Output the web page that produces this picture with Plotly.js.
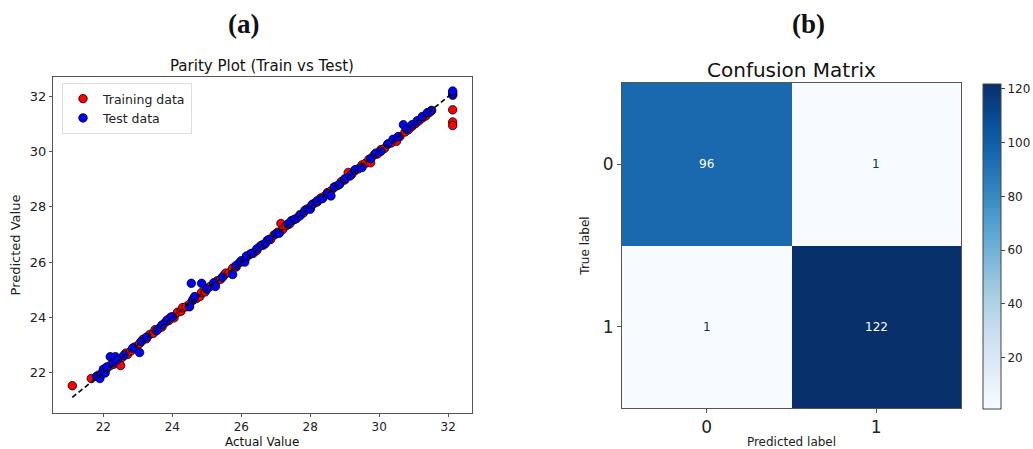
<!DOCTYPE html>
<html>
<head>
<meta charset="utf-8">
<script src="https://cdn.plot.ly/plotly-3.0.1.min.js"></script>
<style>html,body{margin:0;padding:0;background:#fff;}#chart{width:1033px;height:449px;}</style>
</head>
<body>
<div id="chart"></div>
<script>
// ---- Parity plot data ----
const trainActual = [21.10,21.65,21.85,22.00,22.10,22.20,22.30,22.45,22.50,22.55,22.65,22.70,22.80,22.90,22.95,23.05,23.15,23.25,23.35,23.45,23.50,23.60,23.70,23.80,23.90,23.95,24.05,24.15,24.25,24.30,24.40,24.50,24.60,24.70,24.80,24.85,24.95,25.00,25.10,25.20,25.30,25.40,25.50,25.55,25.65,25.75,25.85,25.95,26.05,26.15,26.25,26.35,26.45,26.55,26.65,26.75,26.85,26.95,27.05,27.15,27.20,27.30,27.40,27.50,27.60,27.70,27.80,27.90,28.00,28.10,28.20,28.30,28.40,28.50,28.60,28.70,28.80,28.90,29.00,29.10,29.20,29.30,29.40,29.50,29.60,29.70,29.75,29.85,29.95,30.05,30.15,30.25,30.35,30.45,30.50,30.60,30.75,30.85,30.95,31.05,31.15,31.25,31.35,31.45,31.52,32.13,32.13,32.13];
const trainPred   = [21.52,21.78,21.90,22.05,22.15,22.25,22.30,22.40,22.25,22.55,22.70,22.65,22.78,22.92,22.88,23.05,23.20,23.22,23.38,23.42,23.55,23.58,23.65,23.82,23.88,24.00,23.98,24.18,24.22,24.35,24.38,24.48,24.62,24.68,24.75,24.90,24.92,25.05,25.12,25.18,25.32,25.38,25.52,25.60,25.62,25.78,25.82,25.98,26.02,26.18,26.28,26.32,26.42,26.58,26.62,26.78,26.82,26.98,27.08,27.40,27.18,27.32,27.38,27.52,27.58,27.72,27.78,27.92,27.98,28.12,28.18,28.32,28.38,28.52,28.58,28.72,28.78,28.92,28.98,29.25,29.18,29.32,29.38,29.52,29.58,29.72,29.60,29.88,29.92,30.08,30.12,30.28,30.32,30.42,30.38,30.55,30.72,30.80,30.92,31.02,31.12,31.22,31.30,31.42,31.50,31.52,31.08,30.95];

const testActual = [21.80,21.90,21.95,22.00,22.05,22.10,22.20,22.30,22.35,22.40,22.60,22.85,23.05,23.10,23.25,23.55,23.70,23.85,24.00,24.50,24.55,24.60,24.65,24.85,25.00,25.20,25.25,25.45,25.75,25.85,26.00,26.10,26.15,26.30,26.45,26.60,26.70,26.80,27.00,27.10,27.35,27.45,27.55,27.70,27.85,28.00,28.05,28.20,28.35,28.50,28.60,28.70,28.85,29.00,29.15,29.30,29.50,29.75,29.90,30.05,30.25,30.40,30.55,30.70,30.80,30.95,31.10,31.25,31.40,31.50,32.13,32.13,32.13];
const testPred   = [21.85,21.78,21.95,22.12,21.98,22.20,22.57,22.35,22.57,22.45,22.62,22.88,22.72,23.12,23.28,23.52,23.72,23.90,24.02,24.38,25.23,24.65,24.75,25.23,25.02,25.25,25.12,25.45,25.55,25.88,26.05,26.00,26.22,26.32,26.48,26.62,26.68,26.82,27.02,27.05,27.38,27.50,27.55,27.68,27.88,27.92,28.08,28.22,28.30,28.48,28.40,28.72,28.82,29.02,29.12,29.35,29.43,29.75,29.95,30.02,30.28,30.45,30.55,30.98,30.82,30.98,31.12,31.28,31.42,31.48,32.05,32.12,32.20];

const idealLine = [21.10, 32.15];

// ---- Confusion matrix data ----
const cmLabels = ['0', '1'];
const cmValues = [[96, 1], [1, 122]];
const cbTicks = [20, 40, 60, 80, 100, 120];

const blues = [
  [0, '#f7fbff'], [0.125, '#deebf7'], [0.25, '#c6dbef'], [0.375, '#9ecae1'],
  [0.5, '#6baed6'], [0.625, '#4292c6'], [0.75, '#2171b5'], [0.875, '#08519c'], [1, '#08306b']
];

const FONT = 'DejaVu Sans, sans-serif';

const traces = [
  {
    x: trainActual, y: trainPred, type: 'scatter', mode: 'markers', name: 'Training data',
    marker: {color: '#ff0000', size: 8.5, line: {color: '#000', width: 0.8}},
    xaxis: 'x', yaxis: 'y'
  },
  {
    x: testActual, y: testPred, type: 'scatter', mode: 'markers', name: 'Test data',
    marker: {color: '#0000ff', size: 8.5, line: {color: '#000', width: 0.8}},
    xaxis: 'x', yaxis: 'y'
  },
  {
    x: idealLine, y: idealLine, type: 'scatter', mode: 'lines', showlegend: false,
    line: {color: '#000', width: 1.6, dash: '5px,3px'},
    xaxis: 'x', yaxis: 'y'
  },
  {
    z: cmValues, x: [0, 1], y: [0, 1], type: 'heatmap', colorscale: blues,
    zmin: 1, zmax: 122, showscale: true, showlegend: false, xaxis: 'x2', yaxis: 'y2', hoverinfo: 'skip',
    colorbar: {
      x: 983 / 1033, xanchor: 'left', y: 1 - 246 / 449, yanchor: 'middle',
      thickness: 18, thicknessmode: 'pixels', len: 325, lenmode: 'pixels',
      outlinewidth: 1, outlinecolor: '#444', tickvals: cbTicks, ticks: 'outside',
      ticklen: 4, tickcolor: '#444', tickfont: {family: FONT, size: 12, color: '#222'},
      xpad: 0, ypad: 0
    }
  }
];

const annotations = [];
for (let i = 0; i < cmValues.length; i++) {
  for (let j = 0; j < cmValues[i].length; j++) {
    const v = cmValues[i][j];
    annotations.push({
      x: j, y: i, xref: 'x2', yref: 'y2', text: String(v), showarrow: false,
      font: {family: FONT, size: 12, color: v > 61 ? '#ffffff' : '#08306b'}
    });
  }
}
function paperText(text, px, py, size, family) {
  annotations.push({
    x: px / 1033, y: 1 - py / 449, xref: 'paper', yref: 'paper', xanchor: 'center', yanchor: 'middle',
    text: text, showarrow: false, font: {family: family || FONT, size: size, color: '#111'}
  });
}
paperText('<b>(a)</b>', 243, 24, 27, 'Liberation Serif, serif');
paperText('<b>(b)</b>', 808, 24, 27, 'Liberation Serif, serif');
paperText('Parity Plot (Train vs Test)', 262, 66, 15);
paperText('Confusion Matrix', 791, 70, 20);
paperText('Actual Value', 262, 442, 12);

const axCommon = {
  showgrid: false, zeroline: false, showline: true, mirror: true,
  linecolor: '#555', linewidth: 1, ticks: 'outside', ticklen: 3, tickcolor: '#555'
};

const layout = {
  width: 1033, height: 449,
  margin: {l: 0, r: 0, t: 0, b: 0},
  paper_bgcolor: '#fff', plot_bgcolor: '#fff',
  font: {family: FONT, color: '#222'},
  showlegend: true,
  legend: {
    x: 62 / 1033, y: 1 - 83 / 449, xanchor: 'left', yanchor: 'top',
    bgcolor: '#fff', bordercolor: '#ddd', borderwidth: 1,
    font: {family: FONT, size: 12.5, color: '#222'}, itemsizing: 'trace', tracegroupgap: 0
  },
  xaxis: Object.assign({}, axCommon, {
    domain: [53 / 1033, 472 / 1033], range: [20.54, 32.69], tickvals: [22, 24, 26, 28, 30, 32],
    tickfont: {family: FONT, size: 12, color: '#222'},
    anchor: 'y'
  }),
  yaxis: Object.assign({}, axCommon, {
    domain: [1 - 413 / 449, 1 - 77 / 449], range: [20.53, 32.71], tickvals: [22, 24, 26, 28, 30, 32],
    tickfont: {family: FONT, size: 13, color: '#222'},
    title: {text: 'Predicted Value', font: {family: FONT, size: 13, color: '#222'}, standoff: 6},
    anchor: 'x'
  }),
  xaxis2: Object.assign({}, axCommon, {
    domain: [622 / 1033, 961 / 1033], range: [-0.5, 1.5], tickvals: [0, 1], ticktext: cmLabels,
    tickfont: {family: FONT, size: 17, color: '#222'}, ticklen: 4,
    title: {text: 'Predicted label', font: {family: FONT, size: 12, color: '#222'}, standoff: 4},
    anchor: 'y2'
  }),
  yaxis2: Object.assign({}, axCommon, {
    domain: [1 - 408 / 449, 1 - 83 / 449], range: [1.5, -0.5], tickvals: [0, 1], ticktext: cmLabels,
    tickfont: {family: FONT, size: 17, color: '#222'}, ticklen: 4,
    title: {text: 'True label', font: {family: FONT, size: 12, color: '#222'}, standoff: 10},
    anchor: 'x2'
  }),
  annotations: annotations
};

Plotly.newPlot('chart', traces, layout, {displayModeBar: false, staticPlot: true});
</script>
</body>
</html>
